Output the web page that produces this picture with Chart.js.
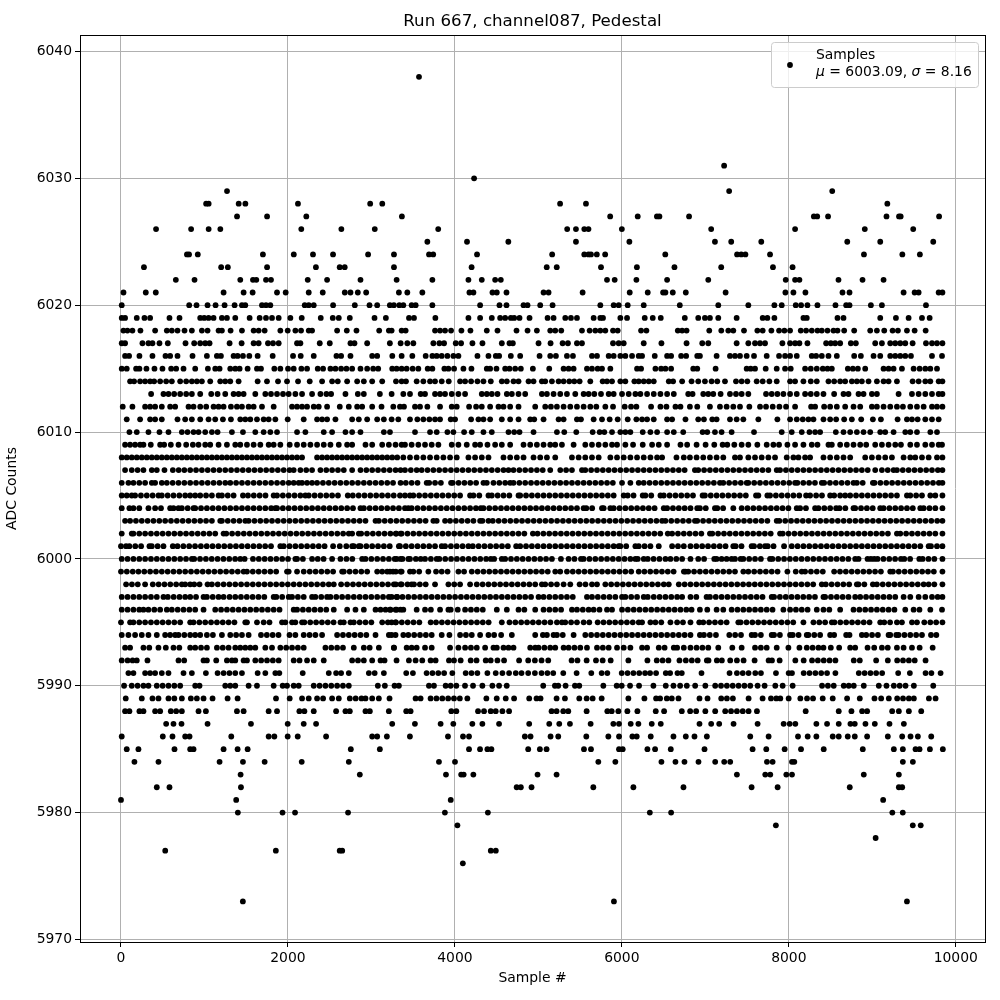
<!DOCTYPE html>
<html>
<head>
<meta charset="utf-8">
<title>Run 667 pedestal</title>
<script src="https://cdn.jsdelivr.net/npm/chart.js@4/dist/chart.umd.min.js"></script>
<style>
  body { margin: 0; background: #fff; }
  canvas { display: block; }
</style>
</head>
<body>
<canvas id="chart" width="1000" height="1000"></canvas>
<script>
var xTicks = [0, 2000, 4000, 6000, 8000, 10000];
var yTicks = [5970, 5980, 5990, 6000, 6010, 6020, 6030, 6040];

// ADC level and the sample numbers seen on that level.
// Solid rows are too dense to separate, so there the spacing is only an estimate.
var levels = [6038, 6031, 6030, 6029, 6028, 6027, 6026, 6025, 6024, 6023, 6022, 6021, 6020, 6019, 6018, 6017, 6016, 6015, 6014, 6013, 6012, 6011, 6010, 6009, 6008, 6007, 6006, 6005, 6004, 6003, 6002, 6001, 6000, 5999, 5998, 5997, 5996, 5995, 5994, 5993, 5992, 5991, 5990, 5989, 5988, 5987, 5986, 5985, 5984, 5983, 5982, 5981, 5980, 5979, 5978, 5977, 5976, 5973];
var samples = [
  [3570],
  [7225],
  [4230],
  [1270, 7285, 8520],
  [1020, 1050, 1410, 1490, 2120, 2985, 3130, 5260, 5570, 9180],
  [1390, 1750, 2220, 3365, 5860, 6190, 6420, 6450, 6805, 8300, 8340, 8470, 9170, 9320, 9340, 9800],
  [420, 840, 1050, 1190, 2160, 2640, 3040, 3800, 5345, 5450, 5550, 5600, 6000, 7070, 8075, 8910, 9490],
  [3670, 4145, 4640, 5450, 6090, 7115, 7310, 7670, 8700, 9095, 9730],
  [790, 815, 920, 1700, 2070, 2300, 2540, 2960, 3270, 3690, 3740, 4265, 5165, 5550, 5600, 5630, 5700, 5800, 6520, 7380, 7430, 7480, 7775, 8900, 9360, 9570],
  [275, 1200, 1280, 1750, 2335, 2620, 2680, 3270, 4200, 5100, 5220, 5750, 6180, 6630, 7190, 7810, 8045],
  [657, 881, 1429, 1581, 1621, 1737, 1797, 2237, 2469, 2869, 3302, 3730, 4162, 4322, 4482, 4550, 5822, 5914, 6174, 6542, 7035, 7963, 8075, 8127, 8595, 8883, 9135],
  [30, 297, 417, 1229, 1469, 1577, 1869, 1973, 2249, 2417, 2681, 2749, 2837, 2937, 3329, 3430, 3610, 4174, 4222, 4450, 4502, 4618, 5062, 5122, 5530, 6094, 6310, 6494, 6522, 6610, 6766, 7243, 7959, 8055, 8199, 8643, 8727, 9375, 9507, 9555, 9795, 9840],
  [9, 817, 905, 1037, 1133, 1241, 1361, 1449, 1489, 1689, 1737, 1789, 2201, 2249, 2309, 2541, 2801, 2977, 3069, 3221, 3269, 3334, 3382, 3482, 3530, 3730, 4302, 4534, 4618, 4822, 4870, 5022, 5170, 5742, 5902, 5962, 6070, 6262, 6694, 7155, 7515, 7827, 7915, 8083, 8147, 8223, 8343, 8559, 8687, 8727, 8983, 9115, 9643],
  [9, 49, 189, 281, 349, 581, 701, 949, 997, 1049, 1109, 1209, 1269, 1369, 1541, 1661, 1737, 1809, 1889, 2029, 2165, 2393, 2537, 2609, 2741, 3037, 3173, 3450, 3510, 3766, 4162, 4302, 4442, 4542, 4602, 4670, 4710, 4774, 4894, 5110, 5182, 5322, 5390, 5462, 5662, 5742, 5774, 5982, 6062, 6274, 6370, 6466, 6754, 6915, 6995, 7055, 7155, 7375, 7687, 7743, 7827, 8175, 8215, 8583, 8655, 9095, 9283, 9435, 9595, 9687],
  [29, 77, 137, 233, 409, 549, 609, 677, 761, 849, 969, 1037, 1169, 1209, 1313, 1449, 1589, 1649, 1721, 1909, 1997, 2089, 2157, 2249, 2289, 2589, 2705, 2821, 3093, 3209, 3242, 3362, 3410, 3762, 3822, 3882, 3954, 4078, 4186, 4382, 4510, 4738, 4870, 4982, 5142, 5202, 5274, 5522, 5614, 5682, 5742, 5802, 5894, 5950, 6230, 6294, 6670, 6722, 6775, 7047, 7191, 7275, 7335, 7463, 7623, 7687, 7791, 7883, 7947, 8015, 8143, 8207, 8275, 8343, 8395, 8463, 8535, 8583, 8663, 8783, 8975, 9055, 9143, 9243, 9307, 9415, 9507, 9639],
  [9, 49, 257, 329, 377, 461, 561, 773, 877, 949, 1009, 1061, 1301, 1445, 1589, 1649, 1761, 1821, 1889, 2109, 2149, 2381, 2501, 2749, 2797, 2949, 3221, 3350, 3430, 3502, 3742, 3814, 3870, 4010, 4074, 4210, 4330, 4562, 4654, 4694, 5002, 5146, 5290, 5354, 5462, 5522, 5894, 5962, 6022, 6262, 6474, 6775, 6963, 7035, 7375, 7515, 7595, 7655, 7715, 7923, 8015, 8075, 8127, 8223, 8447, 8503, 8555, 8615, 8743, 8803, 9035, 9115, 9215, 9275, 9335, 9395, 9483, 9643, 9715, 9775, 9840],
  [49, 97, 221, 377, 533, 589, 677, 857, 1029, 1149, 1197, 1349, 1397, 1461, 1537, 1637, 1817, 2061, 2153, 2309, 2581, 2637, 2749, 3009, 3069, 3250, 3362, 3490, 3650, 3730, 3782, 3842, 3910, 3982, 4042, 4270, 4402, 4490, 4530, 4670, 4782, 5014, 5142, 5210, 5342, 5414, 5642, 5702, 5842, 5902, 5982, 6042, 6122, 6202, 6242, 6394, 6542, 6590, 6710, 6770, 6903, 6935, 7135, 7295, 7355, 7415, 7495, 7583, 7735, 7883, 7955, 8015, 8095, 8275, 8327, 8395, 8475, 8575, 8783, 8863, 9015, 9095, 9215, 9275, 9335, 9395, 9463, 9715, 9835],
  [9, 69, 181, 221, 305, 401, 497, 601, 661, 749, 889, 1041, 1129, 1181, 1309, 1369, 1421, 1517, 1629, 1677, 1837, 1909, 2001, 2069, 2161, 2229, 2357, 2421, 2509, 2569, 2637, 2701, 2769, 2869, 2949, 3021, 3081, 3249, 3302, 3362, 3422, 3494, 3562, 3674, 3730, 3874, 3922, 3990, 4102, 4198, 4382, 4422, 4498, 4602, 4654, 4722, 4790, 4934, 5130, 5302, 5362, 5422, 5582, 5642, 5710, 5762, 5862, 6182, 6230, 6402, 6470, 6522, 6590, 6855, 6903, 7123, 7495, 7543, 7595, 7723, 7855, 7955, 8023, 8195, 8263, 8335, 8407, 8463, 8515, 8707, 8767, 8827, 8915, 9135, 9195, 9255, 9355, 9495, 9567, 9635, 9695, 9775],
  [109, 157, 229, 289, 349, 397, 469, 541, 609, 709, 781, 849, 909, 969, 1069, 1189, 1249, 1309, 1409, 1637, 1749, 1881, 1989, 2121, 2261, 2409, 2529, 2597, 2709, 2829, 2909, 3009, 3129, 3294, 3362, 3414, 3542, 3622, 3702, 3762, 3842, 3926, 4062, 4122, 4194, 4270, 4342, 4430, 4562, 4622, 4702, 4762, 4882, 4942, 5042, 5082, 5162, 5242, 5302, 5370, 5430, 5494, 5622, 5770, 5822, 5882, 5982, 6042, 6150, 6202, 6262, 6322, 6382, 6562, 6614, 6722, 6835, 6915, 6995, 7075, 7143, 7235, 7367, 7435, 7503, 7615, 7687, 7767, 7855, 8015, 8075, 8175, 8263, 8335, 8475, 8543, 8615, 8675, 8755, 8815, 8875, 8955, 9055, 9135, 9195, 9295, 9483, 9555, 9635, 9695, 9795, 9840],
  [361, 509, 569, 637, 709, 781, 849, 949, 1081, 1157, 1249, 1349, 1409, 1469, 1609, 1729, 1797, 1869, 1941, 2009, 2089, 2169, 2289, 2389, 2461, 2517, 2689, 2837, 2909, 3101, 3242, 3382, 3462, 3590, 3642, 3762, 3822, 3882, 3962, 4042, 4122, 4322, 4382, 4442, 4510, 4622, 4682, 4762, 4842, 5042, 5102, 5182, 5262, 5342, 5442, 5542, 5602, 5670, 5750, 5842, 5902, 6002, 6082, 6162, 6222, 6302, 6382, 6462, 6542, 6622, 6795, 6847, 6975, 7035, 7095, 7183, 7295, 7367, 7435, 7515, 7727, 7795, 7863, 7935, 8015, 8095, 8195, 8263, 8335, 8415, 8543, 8655, 8715, 8835, 8895, 8995, 9055, 9315, 9475, 9555, 9635, 9715, 9795, 9840],
  [21, 137, 289, 349, 409, 489, 589, 649, 809, 869, 949, 1021, 1109, 1169, 1229, 1317, 1389, 1449, 1529, 1589, 1689, 1829, 2049, 2109, 2169, 2229, 2309, 2369, 2469, 2621, 2729, 2829, 2889, 3009, 3121, 3262, 3342, 3390, 3522, 3582, 3670, 3822, 3962, 4022, 4170, 4254, 4322, 4422, 4522, 4582, 4662, 4762, 4962, 5082, 5150, 5222, 5302, 5382, 5462, 5542, 5622, 5694, 5802, 5894, 6034, 6110, 6174, 6350, 6462, 6534, 6642, 6702, 6815, 6903, 7055, 7175, 7255, 7335, 7415, 7527, 7655, 7727, 7807, 7887, 7967, 8075, 8267, 8315, 8423, 8495, 8575, 8675, 8775, 8855, 8995, 9055, 9135, 9215, 9295, 9367, 9455, 9535, 9615, 9715, 9775, 9840],
  [69, 229, 349, 409, 489, 677, 769, 849, 949, 1049, 1129, 1221, 1317, 1429, 1489, 1549, 1629, 1709, 1769, 1849, 1997, 2189, 2349, 2409, 2469, 2569, 2769, 2849, 2949, 3069, 3149, 3242, 3322, 3462, 3550, 3622, 3694, 3762, 3822, 3950, 4002, 4194, 4282, 4342, 4422, 4562, 4662, 4762, 4902, 4950, 5062, 5242, 5302, 5462, 5510, 5662, 5762, 5854, 5950, 6070, 6174, 6242, 6302, 6382, 6542, 6602, 6762, 6915, 6983, 7083, 7135, 7295, 7375, 7455, 7635, 7863, 8015, 8095, 8167, 8235, 8295, 8415, 8495, 8567, 8663, 8755, 8867, 9007, 9103, 9303, 9415, 9475, 9543, 9635, 9715, 9795],
  [101, 189, 329, 461, 569, 729, 797, 869, 929, 1009, 1089, 1157, 1329, 1461, 1609, 1709, 1789, 1869, 2109, 2209, 2429, 2529, 2689, 2769, 2869, 3149, 3222, 3522, 3702, 3782, 3910, 3982, 4110, 4202, 4342, 4442, 4642, 4710, 4774, 4942, 5222, 5310, 5454, 5650, 5734, 5790, 5882, 5982, 6042, 6102, 6250, 6342, 6422, 6542, 6622, 6735, 6967, 7023, 7115, 7195, 7315, 7583, 7915, 8035, 8155, 8247, 8315, 8375, 8563, 8655, 8735, 8815, 8895, 8975, 9095, 9155, 9255, 9395, 9455, 9535, 9695, 9775],
  [49, 109, 169, 229, 269, 357, 469, 517, 597, 689, 781, 861, 929, 1009, 1069, 1169, 1269, 1369, 1429, 1509, 1589, 1669, 1769, 1829, 1909, 2021, 2109, 2189, 2269, 2349, 2429, 2509, 2609, 2709, 2769, 2929, 3009, 3129, 3209, 3289, 3362, 3402, 3482, 3562, 3642, 3722, 3802, 3962, 4042, 4142, 4242, 4302, 4390, 4482, 4562, 4662, 4822, 4902, 4982, 5062, 5142, 5202, 5282, 5422, 5562, 5642, 5722, 5802, 5882, 5942, 6042, 6134, 6250, 6362, 6442, 6542, 6702, 6782, 6895, 7003, 7107, 7207, 7263, 7347, 7435, 7515, 7623, 7735, 7815, 7883, 7983, 8075, 8175, 8275, 8343, 8475, 8515, 8615, 8695, 8775, 8855, 8927, 9035, 9115, 9195, 9275, 9343, 9455, 9535, 9635, 9715, 9795, 9835],
  [9, 69, 129, 189, 249, 309, 369, 429, 489, 549, 609, 669, 729, 789, 849, 909, 969, 1029, 1089, 1149, 1209, 1269, 1329, 1389, 1449, 1509, 1569, 1629, 1689, 1749, 1809, 1869, 1929, 1989, 2049, 2109, 2169, 2349, 2409, 2469, 2529, 2589, 2649, 2709, 2769, 2829, 2889, 2949, 3009, 3069, 3129, 3189, 3249, 3309, 3382, 3462, 3542, 3622, 3702, 3782, 3862, 3942, 4022, 4162, 4242, 4322, 4402, 4582, 4662, 4742, 4822, 4942, 5022, 5102, 5202, 5402, 5482, 5562, 5642, 5722, 5862, 5942, 6022, 6102, 6182, 6262, 6342, 6422, 6482, 6654, 6742, 6815, 6895, 6975, 7055, 7135, 7215, 7355, 7415, 7515, 7595, 7675, 7755, 7835, 7975, 8055, 8115, 8195, 8255, 8415, 8495, 8575, 8655, 8735, 8915, 8995, 9075, 9155, 9235, 9375, 9455, 9515, 9595, 9675, 9775, 9840],
  [49, 129, 199, 269, 369, 429, 521, 621, 691, 759, 829, 899, 969, 1039, 1109, 1179, 1249, 1319, 1389, 1459, 1529, 1599, 1669, 1739, 1809, 1879, 1949, 2019, 2069, 2149, 2219, 2289, 2389, 2459, 2529, 2599, 2669, 2769, 2869, 2939, 3009, 3079, 3149, 3219, 3289, 3349, 3402, 3472, 3542, 3602, 3672, 3742, 3812, 3882, 3952, 4022, 4092, 4162, 4232, 4302, 4372, 4442, 4512, 4582, 4642, 4702, 4772, 4842, 4912, 4982, 5052, 5142, 5262, 5332, 5402, 5522, 5562, 5632, 5702, 5772, 5842, 5912, 5982, 6052, 6122, 6192, 6262, 6332, 6402, 6472, 6542, 6612, 6682, 6752, 6875, 6915, 6985, 7055, 7125, 7195, 7265, 7335, 7405, 7475, 7545, 7615, 7685, 7755, 7855, 7895, 7965, 8035, 8105, 8175, 8245, 8315, 8385, 8455, 8525, 8595, 8665, 8735, 8805, 8875, 8945, 9035, 9115, 9185, 9255, 9295, 9365, 9435, 9505, 9575, 9645, 9715, 9785, 9840],
  [9, 89, 149, 219, 289, 369, 409, 489, 549, 619, 689, 759, 829, 899, 969, 1039, 1109, 1179, 1249, 1309, 1379, 1449, 1519, 1589, 1659, 1729, 1799, 1869, 1939, 2009, 2069, 2129, 2169, 2229, 2289, 2349, 2419, 2489, 2559, 2629, 2699, 2769, 2839, 2909, 2979, 3049, 3119, 3189, 3259, 3349, 3412, 3482, 3552, 3662, 3692, 3762, 3832, 3954, 3974, 4044, 4114, 4184, 4254, 4342, 4382, 4462, 4532, 4602, 4662, 4702, 4772, 4842, 4912, 4982, 5052, 5122, 5192, 5262, 5332, 5402, 5472, 5542, 5612, 5682, 5752, 5822, 5892, 6002, 6102, 6202, 6262, 6332, 6402, 6472, 6542, 6612, 6682, 6752, 6822, 6892, 6962, 7032, 7102, 7175, 7215, 7285, 7355, 7425, 7495, 7515, 7585, 7655, 7725, 7795, 7865, 7935, 8005, 8075, 8103, 8173, 8243, 8313, 8395, 8423, 8493, 8563, 8633, 8703, 8775, 8815, 8885, 9007, 9027, 9097, 9167, 9237, 9307, 9377, 9447, 9517, 9587, 9657, 9727, 9797, 9840],
  [9, 69, 129, 169, 239, 309, 379, 449, 489, 559, 629, 699, 769, 829, 889, 949, 1019, 1089, 1169, 1209, 1279, 1349, 1461, 1521, 1591, 1661, 1731, 1829, 1869, 1939, 2009, 2079, 2149, 2209, 2249, 2319, 2389, 2459, 2529, 2599, 2717, 2777, 2847, 2917, 2987, 3057, 3127, 3197, 3267, 3342, 3402, 3462, 3502, 3572, 3642, 3712, 3782, 3852, 3922, 3992, 4062, 4182, 4222, 4292, 4402, 4442, 4512, 4582, 4652, 4762, 4782, 4852, 4922, 4992, 5062, 5132, 5202, 5272, 5342, 5412, 5482, 5552, 5622, 5692, 5762, 5832, 5902, 6022, 6070, 6140, 6250, 6282, 6352, 6462, 6502, 6572, 6642, 6712, 6782, 6852, 6967, 6995, 7065, 7135, 7205, 7275, 7345, 7415, 7485, 7607, 7635, 7743, 7775, 7845, 7915, 7985, 8055, 8125, 8207, 8255, 8327, 8397, 8495, 8543, 8615, 8675, 8735, 8805, 8875, 8945, 9015, 9085, 9155, 9225, 9295, 9415, 9455, 9525, 9595, 9695, 9755, 9840],
  [9, 101, 149, 219, 329, 409, 479, 589, 629, 689, 729, 799, 869, 889, 959, 1029, 1099, 1169, 1239, 1309, 1379, 1449, 1519, 1589, 1659, 1729, 1799, 1849, 1869, 1939, 2009, 2079, 2149, 2219, 2289, 2359, 2429, 2499, 2569, 2639, 2709, 2779, 2869, 2909, 2979, 3049, 3119, 3189, 3259, 3329, 3402, 3442, 3482, 3552, 3622, 3692, 3762, 3832, 3902, 3972, 4042, 4112, 4182, 4252, 4310, 4342, 4412, 4482, 4552, 4622, 4692, 4762, 4832, 4902, 4972, 5042, 5112, 5182, 5252, 5322, 5392, 5462, 5542, 5574, 5644, 5762, 5782, 5862, 5902, 5972, 6042, 6112, 6182, 6252, 6322, 6392, 6502, 6542, 6612, 6682, 6752, 6822, 6903, 6935, 7005, 7115, 7143, 7213, 7335, 7435, 7505, 7575, 7645, 7715, 7785, 7855, 7925, 7995, 8095, 8135, 8205, 8315, 8355, 8425, 8495, 8567, 8607, 8677, 8775, 8795, 8865, 8935, 9005, 9095, 9135, 9205, 9275, 9345, 9415, 9485, 9575, 9615, 9685, 9755, 9840],
  [49, 109, 179, 249, 319, 389, 459, 529, 599, 669, 739, 809, 879, 949, 1019, 1089, 1189, 1209, 1279, 1349, 1419, 1489, 1529, 1599, 1669, 1739, 1809, 1879, 1949, 2019, 2089, 2159, 2229, 2299, 2369, 2439, 2509, 2579, 2649, 2719, 2789, 2859, 2929, 3049, 3089, 3159, 3229, 3299, 3369, 3439, 3509, 3579, 3649, 3742, 3782, 3882, 3942, 4012, 4082, 4152, 4222, 4302, 4330, 4402, 4454, 4524, 4594, 4664, 4734, 4804, 4874, 4944, 5014, 5084, 5154, 5224, 5294, 5364, 5434, 5504, 5574, 5644, 5714, 5784, 5854, 5924, 5994, 6064, 6134, 6204, 6274, 6344, 6414, 6482, 6522, 6592, 6662, 6732, 6802, 6875, 6903, 6973, 7043, 7113, 7183, 7253, 7323, 7393, 7463, 7533, 7603, 7673, 7743, 7855, 7887, 7957, 8027, 8097, 8167, 8237, 8307, 8377, 8447, 8517, 8587, 8657, 8727, 8797, 8867, 8937, 9007, 9077, 9147, 9217, 9287, 9357, 9427, 9497, 9567, 9637, 9707, 9777, 9840],
  [9, 129, 149, 219, 289, 359, 429, 499, 569, 639, 709, 779, 849, 919, 989, 1059, 1129, 1229, 1261, 1331, 1401, 1471, 1541, 1611, 1681, 1751, 1821, 1891, 1961, 2031, 2101, 2171, 2241, 2311, 2381, 2451, 2521, 2591, 2661, 2729, 2769, 2849, 2877, 2947, 3017, 3087, 3157, 3227, 3297, 3349, 3292, 3362, 3432, 3502, 3572, 3642, 3712, 3782, 3852, 3922, 3992, 4062, 4132, 4202, 4272, 4342, 4412, 4482, 4552, 4622, 4692, 4762, 4832, 4934, 4990, 5060, 5130, 5200, 5270, 5340, 5410, 5480, 5550, 5620, 5690, 5760, 5830, 5900, 5970, 6040, 6110, 6180, 6250, 6320, 6390, 6460, 6550, 6602, 6672, 6742, 6812, 6882, 6952, 7055, 7083, 7153, 7223, 7293, 7363, 7433, 7503, 7573, 7643, 7713, 7783, 7895, 7927, 7997, 8067, 8137, 8207, 8277, 8347, 8417, 8487, 8557, 8627, 8697, 8767, 8837, 8907, 8977, 9047, 9117, 9187, 9295, 9335, 9405, 9475, 9545, 9615, 9685, 9755, 9840],
  [0, 61, 101, 171, 241, 341, 369, 439, 509, 621, 677, 747, 817, 887, 957, 1027, 1097, 1167, 1237, 1307, 1377, 1447, 1517, 1587, 1657, 1727, 1797, 1909, 1949, 2019, 2089, 2159, 2229, 2299, 2369, 2439, 2541, 2621, 2699, 2769, 2789, 2849, 2869, 2939, 3009, 3079, 3149, 3219, 3329, 3342, 3412, 3482, 3552, 3622, 3692, 3762, 3842, 3882, 3952, 4022, 4092, 4162, 4214, 4284, 4354, 4424, 4494, 4564, 4634, 4734, 4782, 4852, 4922, 4992, 5062, 5132, 5202, 5272, 5342, 5412, 5482, 5552, 5622, 5692, 5762, 5832, 5902, 5962, 5982, 6052, 6162, 6202, 6272, 6342, 6442, 6602, 6672, 6742, 6822, 6892, 6962, 7032, 7102, 7172, 7242, 7335, 7363, 7433, 7555, 7583, 7653, 7715, 7747, 7817, 7943, 8035, 8105, 8175, 8245, 8315, 8385, 8455, 8525, 8595, 8665, 8735, 8805, 8875, 8945, 9015, 9085, 9155, 9225, 9295, 9365, 9435, 9505, 9575, 9675, 9703, 9775, 9840],
  [9, 79, 149, 219, 289, 359, 429, 499, 569, 639, 709, 779, 849, 877, 947, 1017, 1087, 1157, 1227, 1297, 1367, 1429, 1481, 1581, 1651, 1721, 1791, 1861, 1931, 2001, 2089, 2109, 2179, 2289, 2357, 2427, 2529, 2629, 2701, 2771, 2889, 2929, 2999, 3069, 3139, 3209, 3279, 3349, 3302, 3372, 3442, 3462, 3532, 3590, 3642, 3712, 3782, 3814, 3884, 3954, 4024, 4094, 4164, 4234, 4304, 4374, 4430, 4470, 4562, 4602, 4672, 4742, 4812, 4882, 4952, 5022, 5092, 5162, 5270, 5362, 5432, 5510, 5542, 5612, 5682, 5752, 5822, 5892, 5962, 6032, 6102, 6162, 6190, 6262, 6310, 6380, 6450, 6522, 6582, 6652, 6722, 6822, 6915, 6985, 7107, 7135, 7195, 7255, 7315, 7355, 7423, 7455, 7525, 7595, 7665, 7775, 7803, 7873, 7943, 8013, 8083, 8153, 8223, 8293, 8363, 8433, 8503, 8573, 8643, 8713, 8795, 8835, 8943, 8983, 9023, 9063, 9133, 9203, 9273, 9343, 9383, 9453, 9563, 9603, 9673, 9743, 9840],
  [0, 70, 141, 209, 279, 349, 419, 489, 559, 629, 699, 769, 839, 909, 979, 1049, 1119, 1189, 1259, 1329, 1399, 1469, 1509, 1579, 1649, 1719, 1789, 1859, 1989, 2009, 2109, 2189, 2261, 2331, 2401, 2471, 2541, 2649, 2669, 2739, 2809, 2879, 2949, 3069, 3129, 3189, 3259, 3349, 3222, 3292, 3362, 3462, 3502, 3572, 3682, 3774, 3842, 3912, 4042, 4110, 4202, 4272, 4342, 4412, 4482, 4552, 4622, 4692, 4762, 4832, 4902, 4972, 5042, 5112, 5202, 5262, 5342, 5412, 5482, 5552, 5622, 5692, 5762, 5832, 5902, 5972, 6042, 6112, 6202, 6270, 6340, 6410, 6480, 6550, 6620, 6762, 6743, 6795, 6865, 6935, 7005, 7075, 7145, 7215, 7285, 7355, 7455, 7515, 7585, 7655, 7725, 7795, 7865, 7983, 8083, 8155, 8195, 8265, 8335, 8407, 8543, 8613, 8683, 8753, 8823, 8893, 8963, 9033, 9103, 9215, 9247, 9317, 9387, 9457, 9527, 9597, 9667, 9737, 9840],
  [61, 131, 201, 289, 381, 451, 521, 591, 661, 729, 769, 829, 877, 941, 1037, 1089, 1159, 1229, 1299, 1369, 1439, 1509, 1579, 1649, 1719, 1789, 1859, 1929, 1999, 2069, 2139, 2209, 2279, 2349, 2419, 2489, 2549, 2637, 2709, 2779, 2849, 2919, 2989, 3059, 3129, 3199, 3269, 3349, 3292, 3362, 3432, 3482, 3510, 3580, 3650, 3762, 3922, 3992, 4062, 4182, 4262, 4332, 4402, 4472, 4542, 4612, 4682, 4752, 4822, 4892, 4962, 5042, 5082, 5152, 5222, 5302, 5382, 5494, 5564, 5642, 5702, 5802, 5872, 5942, 6012, 6082, 6152, 6222, 6292, 6362, 6432, 6502, 6562, 6682, 6752, 6822, 6892, 6962, 7032, 7102, 7172, 7242, 7312, 7382, 7452, 7522, 7592, 7662, 7732, 7802, 7872, 7942, 8012, 8082, 8152, 8222, 8292, 8395, 8443, 8513, 8583, 8653, 8723, 8815, 8835, 8905, 9007, 9055, 9125, 9195, 9265, 9335, 9405, 9475, 9545, 9615, 9675, 9743, 9840],
  [9, 79, 149, 219, 289, 359, 429, 509, 561, 631, 701, 769, 829, 899, 989, 1029, 1099, 1169, 1229, 1301, 1369, 1437, 1507, 1577, 1647, 1717, 1829, 1861, 1931, 2009, 2049, 2119, 2189, 2289, 2329, 2399, 2469, 2509, 2579, 2649, 2719, 2789, 2859, 2929, 2999, 3069, 3139, 3209, 3309, 3242, 3302, 3372, 3442, 3512, 3582, 3652, 3722, 3792, 3862, 3932, 4002, 4072, 4142, 4212, 4282, 4352, 4422, 4492, 4562, 4632, 4702, 4772, 4842, 4912, 5002, 5062, 5132, 5202, 5272, 5342, 5412, 5582, 5642, 5712, 5782, 5852, 5922, 6002, 6042, 6112, 6182, 6262, 6310, 6382, 6452, 6522, 6592, 6662, 6722, 6822, 6892, 7015, 7055, 7125, 7195, 7265, 7335, 7405, 7475, 7545, 7615, 7685, 7795, 7823, 7893, 7963, 8033, 8103, 8173, 8243, 8313, 8415, 8435, 8505, 8575, 8645, 8715, 8795, 8855, 8925, 8995, 9065, 9135, 9205, 9275, 9375, 9455, 9555, 9635, 9715, 9783, 9840],
  [9, 79, 149, 219, 269, 329, 399, 469, 549, 609, 679, 749, 819, 889, 989, 1129, 1199, 1269, 1339, 1409, 1479, 1549, 1619, 1689, 1759, 1829, 1899, 2069, 2109, 2179, 2249, 2319, 2389, 2459, 2549, 2709, 2809, 2909, 3049, 3109, 3169, 3229, 3289, 3349, 3222, 3302, 3382, 3542, 3642, 3712, 3822, 3922, 3950, 4034, 4122, 4192, 4262, 4334, 4502, 4622, 4762, 4832, 4962, 5062, 5132, 5202, 5272, 5402, 5462, 5532, 5602, 5662, 5732, 5822, 5882, 6002, 6072, 6142, 6212, 6282, 6352, 6422, 6492, 6562, 6632, 6702, 6772, 6835, 6935, 7023, 7135, 7215, 7315, 7385, 7455, 7525, 7595, 7665, 7735, 7805, 7935, 8015, 8085, 8155, 8225, 8335, 8415, 8485, 8615, 8775, 8845, 8915, 8985, 9055, 9125, 9195, 9265, 9395, 9495, 9565, 9695, 9835],
  [0, 109, 149, 219, 289, 359, 429, 499, 569, 639, 709, 829, 869, 939, 1009, 1079, 1149, 1219, 1289, 1359, 1489, 1509, 1629, 1709, 1779, 1929, 1969, 2049, 2089, 2169, 2197, 2267, 2337, 2407, 2477, 2547, 2629, 2669, 2749, 2789, 2859, 2929, 2999, 3129, 3197, 3289, 3242, 3294, 3364, 3434, 3504, 3574, 3710, 3774, 3844, 3914, 3984, 4054, 4124, 4194, 4264, 4334, 4404, 4562, 4654, 4724, 4794, 4864, 4934, 5004, 5074, 5144, 5222, 5282, 5322, 5392, 5462, 5542, 5610, 5710, 5780, 5850, 5920, 5990, 6060, 6130, 6202, 6242, 6342, 6402, 6472, 6582, 6662, 6732, 6822, 6927, 6975, 7045, 7115, 7185, 7255, 7395, 7423, 7493, 7563, 7633, 7703, 7773, 7843, 7913, 7983, 8053, 8175, 8295, 8365, 8435, 8515, 8547, 8617, 8687, 8757, 8827, 8897, 8967, 9095, 9143, 9213, 9295, 9355, 9475, 9535, 9623, 9695, 9765, 9840],
  [9, 89, 169, 249, 329, 429, 529, 589, 649, 689, 759, 829, 889, 949, 1029, 1101, 1209, 1309, 1379, 1449, 1529, 1677, 1747, 1817, 1887, 2089, 2019, 2189, 2259, 2329, 2409, 2589, 2659, 2729, 2799, 2869, 2939, 3049, 3209, 3289, 3242, 3382, 3442, 3512, 3582, 3652, 3722, 3842, 3934, 4062, 4132, 4202, 4302, 4402, 4470, 4554, 4682, 4962, 5054, 5102, 5182, 5222, 5292, 5422, 5562, 5632, 5702, 5772, 5842, 5912, 5982, 6052, 6122, 6192, 6262, 6332, 6402, 6472, 6542, 6612, 6682, 6752, 6822, 6935, 6983, 7053, 7127, 7287, 7357, 7427, 7555, 7595, 7665, 7795, 7823, 7893, 8015, 8047, 8117, 8215, 8235, 8305, 8375, 8495, 8543, 8687, 8727, 8875, 8927, 8997, 9067, 9195, 9215, 9287, 9315, 9385, 9455, 9525, 9595, 9703, 9767],
  [49, 109, 269, 339, 449, 537, 629, 699, 829, 889, 959, 1029, 1149, 1219, 1289, 1369, 1429, 1489, 1549, 1609, 1729, 1809, 1909, 1979, 2049, 2119, 2189, 2449, 2519, 2589, 2659, 2789, 2909, 2979, 3089, 3269, 3270, 3422, 3482, 3542, 3642, 3722, 3942, 4042, 4122, 4192, 4262, 4362, 4462, 4502, 4582, 4642, 4702, 4902, 4962, 5002, 5072, 5142, 5202, 5302, 5362, 5432, 5502, 5582, 5702, 5772, 5842, 5942, 6022, 6102, 6242, 6302, 6442, 6512, 6622, 6662, 6742, 6822, 6895, 6965, 7035, 7155, 7323, 7435, 7595, 7665, 7735, 7855, 7995, 8127, 8215, 8285, 8355, 8415, 8503, 8603, 8735, 8795, 8943, 9023, 9115, 9185, 9295, 9375, 9475, 9567, 9723],
  [9, 79, 139, 189, 317, 689, 757, 989, 1029, 1141, 1269, 1329, 1369, 1469, 1509, 1609, 1679, 1749, 1819, 1889, 2069, 2139, 2229, 2309, 2429, 2769, 2839, 2909, 3009, 3109, 3157, 3301, 3449, 3529, 3609, 3709, 3769, 3929, 3989, 4069, 4189, 4259, 4369, 4429, 4509, 4589, 4769, 4878, 4958, 5038, 5118, 5398, 5468, 5578, 5690, 5770, 5866, 6078, 6306, 6418, 6488, 6558, 6690, 6766, 6838, 6908, 7018, 7038, 7138, 7198, 7298, 7378, 7458, 7590, 7758, 7798, 7890, 8078, 8178, 8278, 8348, 8418, 8488, 8558, 8778, 8850, 9046, 9186, 9298, 9368, 9438, 9508, 9638],
  [89, 149, 289, 349, 409, 489, 569, 749, 849, 1017, 1157, 1229, 1299, 1369, 1449, 1637, 1729, 1849, 1897, 2177, 2489, 2577, 2637, 2729, 2969, 3039, 3149, 3417, 3497, 3661, 3731, 3801, 3871, 3969, 4129, 4199, 4269, 4389, 4489, 4569, 4649, 4729, 4798, 4878, 4958, 5038, 5108, 5178, 5298, 5458, 5634, 5758, 5826, 5998, 6068, 6138, 6208, 6278, 6338, 6410, 6526, 6578, 6666, 6718, 6954, 7290, 7378, 7448, 7518, 7598, 7666, 7846, 7998, 8038, 8178, 8248, 8318, 8388, 8458, 8558, 8838, 8908, 8978, 9046, 9118, 9310, 9450, 9638, 9708, 9818],
  [37, 129, 199, 269, 329, 429, 499, 569, 639, 709, 889, 941, 1249, 1309, 1369, 1529, 1629, 1829, 1937, 1989, 2069, 2129, 2309, 2379, 2449, 2519, 2589, 2659, 2729, 3077, 3161, 3277, 3329, 3689, 3749, 3889, 3949, 4017, 4121, 4217, 4329, 4449, 4529, 4621, 5058, 5198, 5238, 5326, 5438, 5490, 5778, 5938, 5998, 6098, 6206, 6378, 6526, 6618, 6698, 6778, 6878, 7000, 7118, 7188, 7258, 7328, 7398, 7468, 7538, 7626, 7710, 7838, 7926, 8046, 8398, 8468, 8538, 8658, 8718, 8778, 8898, 9078, 9170, 9258, 9328, 9398, 9498, 9730],
  [57, 249, 377, 449, 569, 639, 729, 837, 909, 989, 1097, 1277, 1397, 1857, 2021, 2169, 2249, 2349, 2421, 2529, 2609, 2741, 2811, 2881, 2929, 3009, 3089, 3217, 3529, 3589, 3709, 3779, 3849, 3919, 3989, 4059, 4149, 4377, 4501, 4609, 4709, 4890, 4978, 5026, 5218, 5318, 5490, 5578, 5650, 5758, 6078, 6270, 6410, 6458, 6538, 6598, 6678, 6930, 7026, 7190, 7258, 7330, 7518, 7686, 7786, 7850, 7898, 7998, 8138, 8218, 8290, 8406, 8526, 8698, 8850, 9026, 9106, 9198, 9298, 9368, 9438, 9498, 9678, 9758],
  [49, 101, 221, 269, 409, 469, 597, 661, 729, 929, 1017, 1389, 1469, 1769, 1869, 2137, 2197, 2309, 2577, 2689, 2741, 2929, 2981, 3209, 3417, 3469, 3957, 4017, 4277, 4349, 4429, 4489, 4569, 4649, 5158, 5218, 5298, 5358, 5578, 5826, 5878, 5958, 6066, 6186, 6406, 6506, 6718, 6818, 6890, 7000, 7118, 7238, 7308, 7378, 7448, 7518, 7618, 8202, 8598, 8750, 8878, 8938, 9238, 9318, 9438, 9586],
  [541, 629, 725, 1037, 1557, 1997, 2189, 2337, 3249, 3521, 3829, 3981, 4209, 4329, 4529, 4890, 5130, 5250, 5378, 5626, 5898, 5966, 6106, 6198, 6358, 6466, 6930, 7070, 7166, 7338, 7626, 7938, 8010, 8078, 8330, 8458, 8598, 8738, 8790, 8918, 9030, 9206, 9378],
  [9, 501, 617, 769, 821, 1321, 1769, 1837, 1997, 2117, 2457, 3009, 3069, 3185, 3461, 3917, 4097, 4169, 4838, 4906, 5146, 5238, 5574, 5838, 5966, 6126, 6178, 6346, 6618, 6766, 6870, 7018, 7538, 7758, 8110, 8226, 8330, 8526, 8598, 8706, 8790, 8938, 9186, 9358, 9458, 9546, 9706],
  [69, 209, 641, 829, 869, 1229, 1397, 1517, 2753, 3101, 4169, 4301, 4389, 4437, 4878, 5018, 5098, 5546, 5630, 5966, 6010, 6306, 6398, 6586, 6990, 7566, 7730, 7950, 8146, 8418, 8886, 9258, 9366, 9518, 9566, 9690, 9845],
  [161, 449, 1181, 1461, 1721, 2165, 2729, 3809, 4001, 5718, 5922, 6474, 6642, 6750, 6918, 7118, 7226, 7298, 7738, 7806, 8038, 8066, 9366, 9486],
  [1433, 2861, 3893, 4075, 4105, 4221, 4990, 5218, 7378, 7718, 7778, 7970, 8038, 8898, 9318],
  [429, 581, 1437, 4740, 4790, 4918, 5658, 6138, 6738, 7554, 7866, 8730, 9318, 9358],
  [0, 1380, 3950, 9130],
  [1400, 1935, 2085, 2720, 3880, 4395, 6335, 6590, 9240, 9365],
  [4030, 7845, 9485, 9580],
  [9040],
  [530, 1855, 2620, 2650, 4430, 4490],
  [4095],
  [1460, 5905, 9415]
];

var points = [];
for (var i = 0; i < levels.length; i++) {
  for (var j = 0; j < samples[i].length; j++) {
    points.push({x: samples[i][j], y: levels[i]});
  }
}

var font = "'DejaVu Sans'";

// matplotlib style frame and legend box
var framePlugin = {
  id: 'frame',
  afterDraw: function(chart) {
    var c = chart.ctx, a = chart.chartArea;
    c.save();
    c.strokeStyle = '#000';
    c.lineWidth = 1;
    c.strokeRect(Math.round(a.left) + 0.5, Math.round(a.top) + 0.5, Math.round(a.right - a.left), Math.round(a.bottom - a.top));

    c.beginPath();
    c.roundRect(771.5, 42.5, 207, 45, 3);
    c.fillStyle = 'rgba(255,255,255,0.8)';
    c.fill();
    c.strokeStyle = '#ccc';
    c.stroke();

    c.fillStyle = '#000';
    c.beginPath();
    c.arc(790, 65, 2.9, 0, Math.PI * 2);
    c.fill();

    c.textBaseline = 'alphabetic';
    c.font = '13.9px ' + font;
    c.fillText('Samples', 816, 59);
    var x = 816;
    var parts = [['\u03bc', true], [' = 6003.09, ', false], ['\u03c3', true], [' = 8.16', false]];
    parts.forEach(function(p) {
      c.font = (p[1] ? 'italic ' : '') + '13.9px ' + font;
      c.fillText(p[0], x, 76);
      x += c.measureText(p[0]).width;
    });
    c.restore();
  }
};

new Chart(document.getElementById('chart'), {
  type: 'scatter',
  data: {
    datasets: [{
      label: 'Samples',
      data: points,
      backgroundColor: '#000',
      borderWidth: 0,
      pointRadius: 2.9
    }]
  },
  options: {
    responsive: false,
    animation: false,
    layout: { padding: { right: 15 } },
    plugins: {
      legend: { display: false },
      tooltip: { enabled: false },
      title: {
        display: true,
        text: 'Run 667, channel087, Pedestal',
        color: '#000',
        fullSize: false,
        font: { family: font, size: 16.67, weight: 'normal' },
        padding: { top: 12, bottom: 3 }
      }
    },
    scales: {
      x: {
        type: 'linear',
        min: -491,
        max: 10350,
        afterBuildTicks: function(s) { s.ticks = xTicks.map(function(v) { return {value: v}; }); },
        afterFit: function(s) { s.height = 58; },
        grid: { color: '#b0b0b0', tickColor: '#000', tickLength: 5 },
        border: { color: '#000' },
        ticks: { color: '#000', maxRotation: 0, font: { family: font, size: 13.9 }, padding: 3, callback: function(v) { return String(v); } },
        title: { display: true, text: 'Sample #', color: '#000', font: { family: font, size: 13.9 }, padding: { top: 4, bottom: 13 } }
      },
      y: {
        type: 'linear',
        min: 5969.8,
        max: 6041.3,
        afterBuildTicks: function(s) { s.ticks = yTicks.map(function(v) { return {value: v}; }); },
        afterFit: function(s) { s.width = 80; },
        grid: { color: '#b0b0b0', tickColor: '#000', tickLength: 5 },
        border: { color: '#000' },
        ticks: { color: '#000', font: { family: font, size: 13.9 }, padding: 3, callback: function(v) { return String(v); } },
        title: { display: true, text: 'ADC Counts', color: '#000', font: { family: font, size: 13.9 }, padding: { top: 4, bottom: 13 } }
      }
    }
  },
  plugins: [framePlugin]
});
</script>
</body>
</html>
